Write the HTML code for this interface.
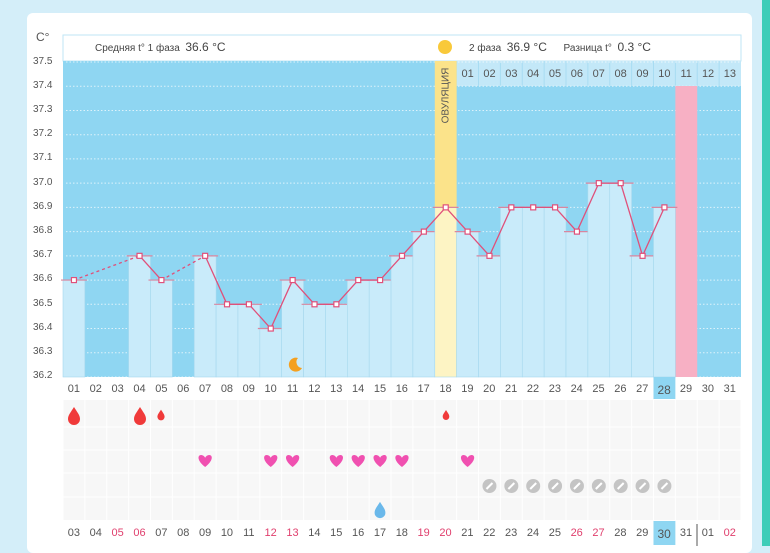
<!DOCTYPE html>
<html><head><meta charset="utf-8"><style>
body{margin:0;width:770px;height:546px;overflow:hidden;background:#d4eef9;font-family:"Liberation Sans",sans-serif;position:relative}
.card{position:absolute;left:27px;top:13px;width:725px;height:540px;background:#fff;border-radius:6px}
.teal{position:absolute;left:762px;top:0;width:8px;height:546px;background:#3ecdb8}
.row{position:absolute;left:63px;display:flex;font-size:11px;color:#555}
.row div{width:21.87px;text-align:center;flex:none}
.r{color:#e0406e}
.yl{position:absolute;left:33px;font-size:10px;color:#555}
svg{position:absolute;left:0;top:0}
</style></head><body>
<div class="card"></div>
<div class="teal"></div>
<svg id="s" width="770" height="546"></svg>
<div style="position:absolute;left:36px;top:30px;font-size:12px;color:#555">C°</div>
<div class="yl" style="top:56px">37.5</div><div class="yl" style="top:80px">37.4</div><div class="yl" style="top:104px">37.3</div><div class="yl" style="top:128px">37.2</div><div class="yl" style="top:152px">37.1</div><div class="yl" style="top:177px">37.0</div><div class="yl" style="top:201px">36.9</div><div class="yl" style="top:225px">36.8</div><div class="yl" style="top:249px">36.7</div><div class="yl" style="top:273px">36.6</div><div class="yl" style="top:298px">36.5</div><div class="yl" style="top:322px">36.4</div><div class="yl" style="top:346px">36.3</div><div class="yl" style="top:370px">36.2</div>
<div style="position:absolute;left:95px;top:40px;font-size:10px;color:#444">Средняя t° 1 фаза &nbsp;<span style="font-size:12px">36.6 °C</span></div>
<div style="position:absolute;left:469px;top:40px;font-size:10px;color:#444">2 фаза &nbsp;<span style="font-size:12px">36.9 °C</span> &nbsp; &nbsp; &nbsp;Разница t° &nbsp;<span style="font-size:12px">0.3 °C</span></div>
<div style="position:absolute;left:416px;top:90px;width:60px;transform:rotate(-90deg);font-size:10px;color:#555;text-align:center">ОВУЛЯЦИЯ</div>
<div class="row" style="top:68px;left:456.7px"><div>01</div><div>02</div><div>03</div><div>04</div><div>05</div><div>06</div><div>07</div><div>08</div><div>09</div><div>10</div><div>11</div><div>12</div><div>13</div></div>
<div class="row" style="top:383px"><div>01</div><div>02</div><div>03</div><div>04</div><div>05</div><div>06</div><div>07</div><div>08</div><div>09</div><div>10</div><div>11</div><div>12</div><div>13</div><div>14</div><div>15</div><div>16</div><div>17</div><div>18</div><div>19</div><div>20</div><div>21</div><div>22</div><div>23</div><div>24</div><div>25</div><div>26</div><div>27</div><div style="font-size:12px">28</div><div>29</div><div>30</div><div>31</div></div>
<div class="row" style="top:527px"><div>03</div><div>04</div><div class="r">05</div><div class="r">06</div><div>07</div><div>08</div><div>09</div><div>10</div><div>11</div><div class="r">12</div><div class="r">13</div><div>14</div><div>15</div><div>16</div><div>17</div><div>18</div><div class="r">19</div><div class="r">20</div><div>21</div><div>22</div><div>23</div><div>24</div><div>25</div><div class="r">26</div><div class="r">27</div><div>28</div><div>29</div><div style="font-size:12px">30</div><div>31</div><div>01</div><div class="r">02</div></div>
<script>
var s=document.getElementById('s'),h='';
var P=21.87,L=i=>63+P*(i-1),Y=v=>62+(37.5-v)*242.3;
function r(x,y,w,hh,f,e){h+='<rect x="'+x+'" y="'+y+'" width="'+w+'" height="'+hh+'" fill="'+f+'" '+(e||'')+'/>';}
r(63,35,678,26,'#fff','stroke="#bfe6f5"');
r(63,61,678,316,'#8fd6f2');
r(456.7,61,284.3,25,'#c3e8f8');
for(var i=20;i<=31;i++)h+='<line x1="'+L(i)+'" y1="61" x2="'+L(i)+'" y2="86" stroke="#a8dcf2"/>';
for(var k=0;k<14;k++){var y=62+k*24.23;h+='<line x1="66" y1="'+y+'" x2="741" y2="'+y+'" stroke="#fff" stroke-dasharray="1.5 2" opacity=".7"/>';}
var V={1:36.6,4:36.7,5:36.6,7:36.7,8:36.5,9:36.5,10:36.4,11:36.6,12:36.5,13:36.5,14:36.6,15:36.6,16:36.7,17:36.8,18:36.9,19:36.8,20:36.7,21:36.9,22:36.9,23:36.9,24:36.8,25:37.0,26:37.0,27:36.7,28:36.9};
r(L(18),61,P,316,'#fbe38a');
r(L(29),86,P,291,'#f7b0c4');
for(var d in V){d=+d;var y=Y(V[d]);r(L(d),y,P,377-y,d==18?'#fdf4c4':'#c9ebfa','stroke="#a6d8ee" stroke-width="0.6"');h+='<line x1="'+(L(d)-2)+'" y1="'+y+'" x2="'+(L(d)+P+2)+'" y2="'+y+'" stroke="#d9869f" stroke-width="1.2"/>';}
r(L(28),377,P,22,'#8fd6f2');
h+='<circle cx="445" cy="47" r="7" fill="#f9c93a"/>';
var pts=[];for(var d in V)pts.push([+d,L(+d)+P/2,Y(V[d])]);
for(var j=1;j<pts.length;j++){var a=pts[j-1],b=pts[j];h+='<line x1="'+a[1]+'" y1="'+a[2]+'" x2="'+b[1]+'" y2="'+b[2]+'" stroke="#e0507a" stroke-width="1.3" '+(b[0]-a[0]>1?'stroke-dasharray="3 3"':'')+'/>';}
pts.forEach(p=>r(p[1]-2.5,p[2]-2.5,5,5,'#fff','stroke="#e0507a" stroke-width="1.2"'));
h+='<path d="M298 358 a7 7 0 1 0 4 10 a6 6 0 0 1 -4 -10z" fill="#f4a020"/>';
r(63,400,678,120,'#f7f7f7');
for(var i=1;i<=32;i++)h+='<line x1="'+L(i)+'" y1="400" x2="'+L(i)+'" y2="520" stroke="#fff"/>';
[427,450,473,497].forEach(y=>h+='<line x1="63" x2="741" y1="'+y+'" y2="'+y+'" stroke="#fff"/>');
r(L(28),521,P,24,'#8fd6f2');
h+='<line x1="697" y1="524" x2="697" y2="546" stroke="#555"/>';
function drop(cx,cy,sc,c){h+='<path transform="translate('+cx+','+cy+') scale('+sc+')" d="M0 -9 C3 -4 6 -1 6 3 A6 6 0 0 1 -6 3 C-6 -1 -3 -4 0 -9z" fill="'+c+'"/>';}
drop(74,416,1,'#f03a3a');drop(140,416,1,'#f03a3a');drop(161,415,0.6,'#f03a3a');drop(446,415,0.55,'#f03a3a');drop(380,510,0.9,'#6ab8ea');
function heart(cx,cy){h+='<path transform="translate('+cx+','+cy+')" d="M0 6 C-8 0 -8 -6 -4 -6 C-2 -6 0 -4 0 -3 C0 -4 2 -6 4 -6 C8 -6 8 0 0 6z" fill="#f050b0"/>';}
[9,12,13,15,16,17,18].forEach(d=>heart(L(d-2)+P/2,461));heart(L(19)+P/2,461);
for(var d=20;d<=28;d++){var cx=L(d)+P/2;h+='<circle cx="'+cx+'" cy="486" r="7" fill="#c4c4c4"/><line x1="'+(cx-3)+'" y1="489" x2="'+(cx+3)+'" y2="483" stroke="#fff" stroke-width="2"/>';}
s.innerHTML=h;
</script>
</body></html>
